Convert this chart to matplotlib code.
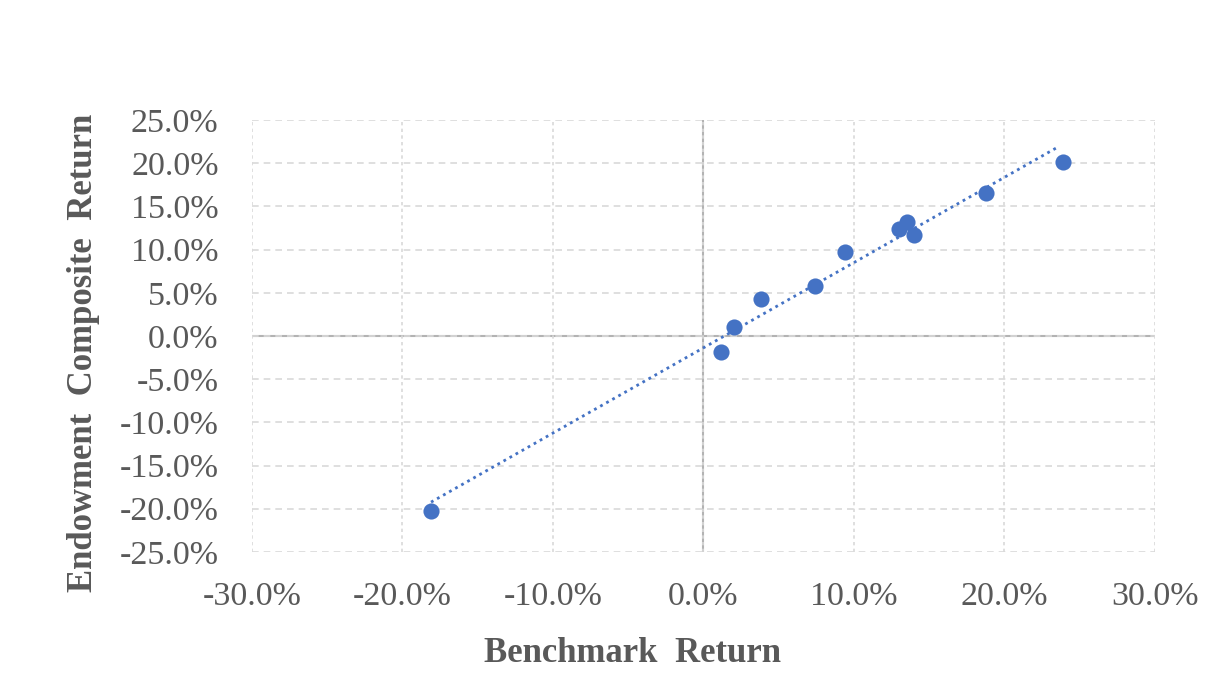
import matplotlib.pyplot as plt
import matplotlib.ticker as mtick
import numpy as np

# benchmark vs endowment composite returns (%)
benchmark = [-18.1, 1.2, 2.0, 3.85, 7.4, 9.4, 13.0, 13.55, 14.0, 18.8, 23.9]
endowment = [-20.3, -1.85, 1.0, 4.3, 5.8, 9.7, 12.4, 13.2, 11.7, 16.6, 20.2]

blue = '#4472C4'
grey_txt = '#595959'

plt.rcParams['font.family'] = ['Liberation Serif', 'DejaVu Serif']

fig = plt.figure(figsize=(12.26, 6.96), dpi=100)
ax = fig.add_axes([0.2055, 0.207, 0.7365, 0.6205])

x = np.array(benchmark)
y = np.array(endowment)

# linear trendline over the data range
m, c = np.polyfit(x, y, 1)
xs = np.array([x.min(), x.max() - 0.4])
ax.plot(xs, m * xs + c, color=blue, linestyle=(0, (1, 1.5)), linewidth=2, zorder=2)

ax.scatter(x, y, s=135, color=blue, zorder=3, linewidths=0)

ax.set_xlim(-30, 30)
ax.set_ylim(-25, 25)
ax.set_xticks(np.arange(-30, 31, 10))
ax.set_yticks(np.arange(-25, 26, 5))
ax.xaxis.set_major_formatter(mtick.FuncFormatter(lambda v, p: f'{v:.1f}%'))
ax.yaxis.set_major_formatter(mtick.FuncFormatter(lambda v, p: f'{v:.1f}%'))

# grid
ax.grid(axis='y', color='#D9D9D9', linestyle=(0, (4, 3)), linewidth=1.2, zorder=0)
ax.grid(axis='x', color='#D9D9D9', linestyle=(0, (2, 2)), linewidth=1.2, zorder=0)
ax.axhline(0, color='#B3B3B3', linewidth=1.5, zorder=1)
ax.axvline(0, color='#B3B3B3', linewidth=1.5, zorder=1)

for side in ['top', 'bottom', 'left', 'right']:
    ax.spines[side].set_visible(False)

ax.tick_params(length=0, labelsize=24.5, colors=grey_txt)
ax.tick_params(axis='x', pad=21)
ax.tick_params(axis='y', pad=24)

ax.set_xlabel('Benchmark  Return', fontsize=25, fontweight='bold', color=grey_txt)
ax.set_ylabel('Endowment  Composite  Return', fontsize=25, fontweight='bold', color=grey_txt)
ax.xaxis.set_label_coords(0.422, -0.197)
ax.yaxis.set_label_coords(-0.168, 0.46)

plt.savefig('out.png', dpi=100)
